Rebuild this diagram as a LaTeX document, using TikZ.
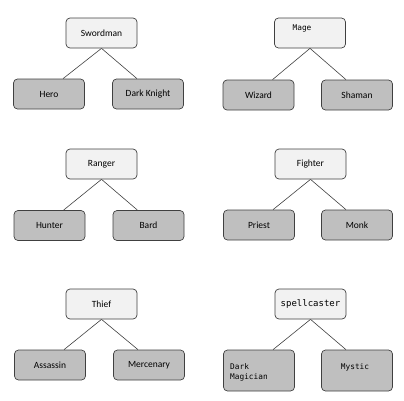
\documentclass[tikz,border=0pt]{standalone}
\usepackage{fontspec}
\setmainfont{Carlito}
\newfontfamily\monof{DejaVu Sans Mono}
\definecolor{parentfill}{HTML}{F2F2F2}
\definecolor{childfill}{HTML}{BFBFBF}
\definecolor{edge}{HTML}{404040}
\begin{document}
\begin{tikzpicture}[x=1pt,y=-1pt,
  box/.style={draw=edge,line width=0.7pt,rounded corners=4pt,minimum width=71pt,minimum height=30pt,inner sep=0pt,font=\fontsize{9.5}{11}\selectfont},
  parent/.style={box,fill=parentfill},
  child/.style={box,fill=childfill},
  tall/.style={minimum height=41pt},
  link/.style={draw=edge,line width=0.6pt},
  mono/.style={font=\monof\fontsize{7.8}{9.5}\selectfont}]
\useasboundingbox (0,0) rectangle (404,400);
% Swordman
\node[parent] (sw) at (101.5,33) {Swordman};
\node[child] (hero) at (49,94) {Hero};
\node[child] (dk) at (148,94) {Dark Knight};
% Mage
\node[parent,label={[mono,xshift=-8pt,yshift=5pt]center:Mage}] (mage) at (310,33) {};
\node[child] (wiz) at (258.5,95) {Wizard};
\node[child] (sha) at (357,95) {Shaman};
% Ranger
\node[parent] (ran) at (101.5,164) {Ranger};
\node[child] (hun) at (49.5,225.5) {Hunter};
\node[child] (bard) at (148.5,225.5) {Bard};
% Fighter
\node[parent] (fig) at (310.5,164) {Fighter};
\node[child] (pri) at (259,225) {Priest};
\node[child] (monk) at (357,225) {Monk};
% Thief
\node[parent] (thief) at (101.5,304) {Thief};
\node[child] (ass) at (50,365) {Assassin};
\node[child] (merc) at (149,365) {Mercenary};
% spellcaster
\node[parent,mono,font=\monof\fontsize{9}{11}\selectfont] (sc) at (310.5,304) {spellcaster};
\node[child,tall,label={[mono,anchor=west,align=left,xshift=3.5pt,yshift=-2pt]west:{Dark\\Magician}}] (dm) at (259,370.5) {};
\node[child,tall,label={[mono,xshift=-2pt,yshift=3.5pt]center:Mystic}] (mys) at (357,370.5) {};
% links
\foreach \p/\l/\r in {sw/hero/dk, mage/wiz/sha, ran/hun/bard, fig/pri/monk, thief/ass/merc, sc/dm/mys}{
  \draw[link] (\p.south) -- ([xshift=14pt]\l.north);
  \draw[link] (\p.south) -- ([xshift=-11pt]\r.north);
}
\end{tikzpicture}
\end{document}
